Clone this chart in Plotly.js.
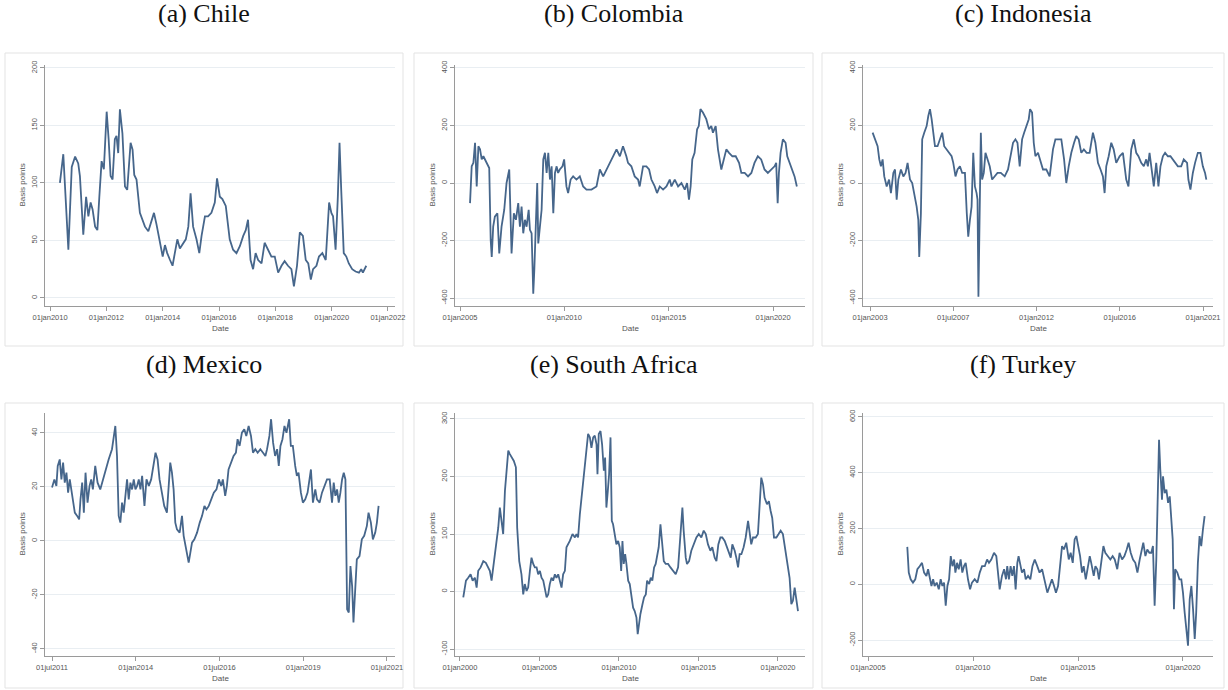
<!DOCTYPE html>
<html>
<head>
<meta charset="utf-8">
<script src="https://cdn.plot.ly/plotly-3.0.1.min.js"></script>
<style>html,body{margin:0;padding:0;background:#fff;}#chart{width:1228px;height:690px;}</style>
</head>
<body>
<div id="chart"></div>
<script>
// ---------- data: [decimal year, basis points] ----------
const chile = [[2010.35,100],[2010.47,125],[2010.65,42],[2010.77,114],[2010.89,123],[2011.00,117],[2011.06,106],[2011.18,55],[2011.28,88],[2011.36,71],[2011.44,83],[2011.51,77],[2011.60,62],[2011.68,59],[2011.75,88],[2011.83,119],[2011.91,112],[2012.01,162],[2012.08,138],[2012.15,106],[2012.22,103],[2012.30,138],[2012.36,141],[2012.42,126],[2012.48,164],[2012.57,143],[2012.66,97],[2012.74,94],[2012.86,135],[2012.93,129],[2012.99,107],[2013.07,103],[2013.19,74],[2013.29,67],[2013.37,62],[2013.49,58],[2013.61,68],[2013.69,74],[2013.78,64],[2013.90,48],[2014.00,36],[2014.08,46],[2014.16,39],[2014.26,33],[2014.35,28],[2014.43,39],[2014.52,51],[2014.61,43],[2014.73,48],[2014.82,51],[2014.91,62],[2014.99,91],[2015.08,62],[2015.20,51],[2015.30,39],[2015.38,54],[2015.50,71],[2015.61,71],[2015.73,74],[2015.85,83],[2015.93,104],[2016.03,88],[2016.12,86],[2016.24,80],[2016.38,51],[2016.50,42],[2016.62,39],[2016.74,45],[2016.86,54],[2016.95,59],[2017.03,68],[2017.12,33],[2017.21,25],[2017.30,39],[2017.39,33],[2017.51,30],[2017.62,48],[2017.74,42],[2017.86,36],[2017.98,36],[2018.10,22],[2018.22,28],[2018.33,32],[2018.45,28],[2018.57,25],[2018.66,10],[2018.77,28],[2018.87,57],[2018.98,54],[2019.08,33],[2019.17,30],[2019.26,16],[2019.34,25],[2019.46,28],[2019.55,36],[2019.67,39],[2019.79,33],[2019.91,83],[2019.99,74],[2020.05,71],[2020.14,42],[2020.22,88],[2020.28,135],[2020.34,94],[2020.43,39],[2020.52,36],[2020.61,30],[2020.73,25],[2020.85,23],[2020.97,22],[2021.05,25],[2021.11,22],[2021.23,28]];

const colombia = [[2005.48,-70],[2005.56,58],[2005.64,70],[2005.72,140],[2005.80,-12],[2005.88,128],[2005.96,117],[2006.04,82],[2006.12,93],[2006.28,70],[2006.40,52],[2006.47,-198],[2006.52,-257],[2006.59,-152],[2006.67,-117],[2006.79,-105],[2006.88,-245],[2006.99,-152],[2007.12,-93],[2007.23,0],[2007.36,47],[2007.47,-245],[2007.58,-105],[2007.68,-128],[2007.79,-70],[2007.87,-152],[2007.95,-82],[2008.03,-175],[2008.11,-128],[2008.19,-152],[2008.29,-93],[2008.35,-163],[2008.43,-175],[2008.48,-303],[2008.51,-385],[2008.56,-303],[2008.64,-82],[2008.70,0],[2008.75,-210],[2008.83,-140],[2008.91,-93],[2008.99,82],[2009.07,105],[2009.15,35],[2009.23,105],[2009.31,12],[2009.39,58],[2009.47,-105],[2009.55,35],[2009.63,58],[2009.70,35],[2009.78,47],[2009.91,58],[2009.99,82],[2010.10,-12],[2010.18,-35],[2010.30,12],[2010.42,23],[2010.58,12],[2010.74,23],[2010.90,-12],[2011.06,-23],[2011.30,-23],[2011.54,-12],[2011.70,47],[2011.86,23],[2012.02,47],[2012.18,70],[2012.34,93],[2012.50,117],[2012.66,93],[2012.81,128],[2012.97,93],[2013.05,70],[2013.21,58],[2013.37,23],[2013.53,12],[2013.61,-12],[2013.77,58],[2013.93,58],[2014.06,47],[2014.17,12],[2014.33,-12],[2014.44,-35],[2014.57,-12],[2014.73,-23],[2014.89,-12],[2015.05,12],[2015.13,-12],[2015.29,12],[2015.45,-12],[2015.61,0],[2015.77,-23],[2015.88,0],[2015.97,-58],[2016.05,-12],[2016.13,82],[2016.24,105],[2016.36,187],[2016.44,198],[2016.52,257],[2016.64,245],[2016.80,222],[2016.93,187],[2017.04,198],[2017.12,175],[2017.25,198],[2017.36,117],[2017.52,47],[2017.63,82],[2017.76,117],[2017.89,105],[2018.05,93],[2018.21,93],[2018.37,70],[2018.48,35],[2018.64,35],[2018.80,23],[2018.96,35],[2019.11,70],[2019.27,93],[2019.43,82],[2019.59,47],[2019.75,35],[2019.91,47],[2020.07,58],[2020.15,70],[2020.22,-70],[2020.28,35],[2020.36,105],[2020.47,152],[2020.60,140],[2020.68,93],[2020.79,70],[2020.92,47],[2021.03,23],[2021.14,-12]];

const indonesia = [[2003.14,175],[2003.27,152],[2003.41,128],[2003.50,82],[2003.59,58],[2003.68,82],[2003.77,23],[2003.90,-12],[2004.03,12],[2004.13,-35],[2004.26,35],[2004.35,47],[2004.44,-58],[2004.53,12],[2004.67,47],[2004.80,23],[2004.92,35],[2005.03,70],[2005.16,12],[2005.28,0],[2005.39,-35],[2005.52,-82],[2005.61,-128],[2005.66,-257],[2005.75,-105],[2005.82,152],[2005.93,175],[2006.06,198],[2006.15,233],[2006.24,257],[2006.33,222],[2006.42,163],[2006.51,128],[2006.65,128],[2006.78,152],[2006.90,175],[2007.01,128],[2007.14,117],[2007.28,105],[2007.41,93],[2007.50,70],[2007.62,23],[2007.73,47],[2007.86,58],[2007.98,35],[2008.13,35],[2008.23,-105],[2008.31,-187],[2008.40,-128],[2008.49,-82],[2008.58,105],[2008.67,-12],[2008.76,-35],[2008.81,-58],[2008.86,-396],[2008.92,-23],[2008.99,175],[2009.06,12],[2009.15,35],[2009.24,105],[2009.35,82],[2009.47,58],[2009.60,12],[2009.74,23],[2009.89,35],[2010.07,35],[2010.28,23],[2010.46,47],[2010.61,93],[2010.73,140],[2010.86,152],[2010.97,140],[2011.09,58],[2011.22,152],[2011.33,175],[2011.45,198],[2011.58,222],[2011.65,257],[2011.76,245],[2011.85,140],[2011.94,93],[2012.08,105],[2012.23,70],[2012.35,47],[2012.53,47],[2012.71,23],[2012.89,117],[2013.02,152],[2013.16,152],[2013.34,152],[2013.49,82],[2013.61,0],[2013.74,58],[2013.88,105],[2014.03,140],[2014.15,163],[2014.28,152],[2014.42,105],[2014.56,117],[2014.71,105],[2014.87,105],[2015.05,175],[2015.18,140],[2015.32,70],[2015.46,47],[2015.59,23],[2015.68,-35],[2015.77,58],[2015.90,93],[2016.04,140],[2016.17,117],[2016.31,70],[2016.49,93],[2016.67,105],[2016.85,12],[2016.97,-12],[2017.12,117],[2017.26,152],[2017.39,105],[2017.51,93],[2017.66,70],[2017.80,58],[2017.93,82],[2018.02,58],[2018.11,105],[2018.23,35],[2018.34,-12],[2018.47,70],[2018.59,-12],[2018.70,58],[2018.83,93],[2018.95,105],[2019.10,93],[2019.24,93],[2019.37,82],[2019.49,70],[2019.64,58],[2019.82,58],[2019.96,82],[2020.14,70],[2020.21,12],[2020.32,-23],[2020.45,35],[2020.57,70],[2020.72,105],[2020.86,105],[2020.99,58],[2021.11,35],[2021.18,12]];

const mexico = [[2011.50,19.8],[2011.57,22.8],[2011.63,20.4],[2011.67,27.8],[2011.73,30.2],[2011.78,22.8],[2011.83,29.0],[2011.88,21.6],[2011.93,25.3],[2011.98,17.9],[2012.03,22.8],[2012.08,19.1],[2012.13,15.4],[2012.18,10.5],[2012.25,9.3],[2012.31,8.0],[2012.35,15.4],[2012.40,21.6],[2012.45,10.5],[2012.50,25.3],[2012.56,14.2],[2012.62,20.4],[2012.67,22.8],[2012.72,19.1],[2012.79,27.8],[2012.86,21.6],[2012.94,19.1],[2013.02,22.8],[2013.09,25.3],[2013.19,30.2],[2013.29,34.0],[2013.34,37.7],[2013.39,42.6],[2013.44,31.5],[2013.49,9.3],[2013.54,6.8],[2013.59,14.2],[2013.64,10.5],[2013.69,17.9],[2013.74,22.8],[2013.79,15.4],[2013.84,21.6],[2013.89,19.1],[2013.94,22.8],[2013.99,19.1],[2014.04,20.4],[2014.09,22.8],[2014.14,19.1],[2014.19,24.1],[2014.26,13.0],[2014.32,22.8],[2014.39,20.4],[2014.46,22.8],[2014.53,27.8],[2014.59,32.7],[2014.65,30.2],[2014.71,22.8],[2014.78,17.9],[2014.85,13.0],[2014.93,10.5],[2014.98,19.1],[2015.03,29.0],[2015.08,25.3],[2015.13,19.1],[2015.18,6.8],[2015.23,4.3],[2015.31,3.1],[2015.38,9.3],[2015.43,1.9],[2015.48,-1.9],[2015.53,-4.3],[2015.58,-8.0],[2015.63,-4.3],[2015.68,-0.6],[2015.75,0.6],[2015.83,3.1],[2015.91,6.8],[2015.98,9.3],[2016.05,13.0],[2016.11,11.7],[2016.18,13.0],[2016.25,15.4],[2016.33,17.9],[2016.41,19.1],[2016.48,22.8],[2016.55,20.4],[2016.60,22.8],[2016.67,16.7],[2016.72,20.4],[2016.77,26.5],[2016.84,29.0],[2016.92,31.5],[2016.99,32.7],[2017.04,37.7],[2017.10,35.2],[2017.17,40.1],[2017.24,41.4],[2017.30,38.9],[2017.37,42.6],[2017.44,38.9],[2017.50,32.7],[2017.57,34.0],[2017.64,32.7],[2017.72,34.0],[2017.80,32.7],[2017.87,31.5],[2017.92,34.0],[2017.99,38.9],[2018.04,45.1],[2018.10,36.4],[2018.16,31.5],[2018.22,34.0],[2018.27,27.8],[2018.32,35.2],[2018.38,37.7],[2018.44,42.6],[2018.50,40.1],[2018.54,42.6],[2018.58,45.1],[2018.63,35.2],[2018.69,35.2],[2018.76,27.8],[2018.81,24.1],[2018.86,25.3],[2018.93,17.9],[2018.99,14.2],[2019.06,15.4],[2019.13,17.9],[2019.19,22.8],[2019.23,26.5],[2019.29,14.2],[2019.36,19.1],[2019.41,15.4],[2019.49,14.2],[2019.56,17.9],[2019.63,20.4],[2019.71,22.8],[2019.79,22.8],[2019.86,14.2],[2019.91,21.6],[2019.96,16.7],[2020.01,19.1],[2020.06,14.2],[2020.11,17.9],[2020.16,22.8],[2020.21,25.3],[2020.26,22.8],[2020.31,-25.3],[2020.36,-26.5],[2020.41,-9.3],[2020.46,-16.7],[2020.50,-30.2],[2020.55,-16.7],[2020.60,-6.8],[2020.68,-5.6],[2020.75,0.6],[2020.82,1.9],[2020.90,5.6],[2020.95,10.5],[2021.02,6.8],[2021.08,0.6],[2021.15,3.1],[2021.20,6.8],[2021.25,13.0]];

const southAfrica = [[2000.21,-10],[2000.38,19],[2000.52,24],[2000.67,30],[2000.80,19],[2000.94,24],[2001.05,7],[2001.15,36],[2001.30,42],[2001.47,53],[2001.63,50],[2001.78,42],[2001.88,36],[2001.99,19],[2002.09,42],[2002.20,59],[2002.30,88],[2002.41,111],[2002.51,146],[2002.62,123],[2002.72,100],[2002.83,175],[2002.93,204],[2003.04,245],[2003.14,239],[2003.25,233],[2003.39,227],[2003.52,216],[2003.60,111],[2003.73,53],[2003.87,30],[2003.98,-5],[2004.08,13],[2004.19,1],[2004.29,7],[2004.40,36],[2004.50,59],[2004.61,48],[2004.71,42],[2004.82,42],[2004.92,30],[2005.03,36],[2005.13,24],[2005.24,19],[2005.34,7],[2005.45,-10],[2005.55,-5],[2005.65,13],[2005.76,24],[2005.86,19],[2005.97,30],[2006.07,24],[2006.18,30],[2006.28,19],[2006.39,7],[2006.49,30],[2006.60,36],[2006.70,77],[2006.81,82],[2006.91,88],[2007.08,100],[2007.23,94],[2007.33,100],[2007.43,94],[2007.54,134],[2007.64,163],[2007.75,192],[2007.85,221],[2007.96,256],[2008.06,274],[2008.17,268],[2008.27,250],[2008.38,268],[2008.48,271],[2008.59,256],[2008.65,204],[2008.73,274],[2008.84,279],[2008.94,256],[2009.05,210],[2009.13,233],[2009.21,146],[2009.30,175],[2009.38,204],[2009.47,268],[2009.55,123],[2009.63,117],[2009.74,94],[2009.84,82],[2009.95,88],[2010.05,77],[2010.14,36],[2010.22,88],[2010.30,48],[2010.39,65],[2010.47,48],[2010.58,19],[2010.68,13],[2010.79,-10],[2010.89,-28],[2010.99,-34],[2011.10,-45],[2011.18,-74],[2011.27,-51],[2011.35,-39],[2011.48,-22],[2011.58,-10],[2011.69,-5],[2011.77,19],[2011.90,13],[2012.00,24],[2012.10,19],[2012.21,42],[2012.31,48],[2012.40,59],[2012.50,77],[2012.61,117],[2012.71,88],[2012.82,53],[2012.94,48],[2013.09,48],[2013.24,42],[2013.40,36],[2013.57,30],[2013.72,42],[2013.82,77],[2013.93,123],[2013.99,146],[2014.07,106],[2014.20,59],[2014.28,48],[2014.41,53],[2014.55,71],[2014.70,82],[2014.87,94],[2015.02,100],[2015.18,94],[2015.33,106],[2015.46,100],[2015.60,82],[2015.75,71],[2015.87,77],[2016.02,59],[2016.13,53],[2016.25,82],[2016.38,94],[2016.50,94],[2016.65,88],[2016.80,77],[2016.92,65],[2017.03,59],[2017.13,82],[2017.28,71],[2017.38,59],[2017.49,42],[2017.59,65],[2017.70,65],[2017.84,77],[2017.97,94],[2018.12,123],[2018.22,106],[2018.32,82],[2018.43,94],[2018.60,94],[2018.74,100],[2018.85,163],[2018.95,198],[2019.06,186],[2019.16,163],[2019.31,152],[2019.43,157],[2019.54,140],[2019.64,128],[2019.75,94],[2019.90,94],[2020.04,100],[2020.17,106],[2020.31,100],[2020.42,82],[2020.52,65],[2020.63,42],[2020.73,24],[2020.84,-22],[2020.94,-16],[2021.05,7],[2021.15,-16],[2021.26,-34]];

const turkey = [[2006.87,134],[2006.94,42],[2007.03,18],[2007.14,6],[2007.25,18],[2007.35,54],[2007.46,65],[2007.57,77],[2007.67,42],[2007.78,30],[2007.86,54],[2007.94,18],[2008.02,-6],[2008.10,18],[2008.17,-6],[2008.27,6],[2008.37,-18],[2008.46,18],[2008.54,-6],[2008.62,6],[2008.70,-77],[2008.78,-6],[2008.86,18],[2008.94,101],[2009.02,65],[2009.10,89],[2009.16,42],[2009.24,77],[2009.32,54],[2009.41,89],[2009.49,42],[2009.57,65],[2009.65,77],[2009.76,18],[2009.86,-18],[2009.95,6],[2010.08,18],[2010.21,6],[2010.32,42],[2010.43,65],[2010.56,65],[2010.67,89],[2010.76,77],[2010.87,89],[2011.00,113],[2011.11,101],[2011.19,42],[2011.27,-18],[2011.38,30],[2011.48,54],[2011.57,18],[2011.63,65],[2011.71,18],[2011.79,65],[2011.87,30],[2011.95,65],[2012.03,-18],[2012.11,77],[2012.17,101],[2012.25,65],[2012.33,42],[2012.43,54],[2012.51,18],[2012.62,30],[2012.73,18],[2012.83,65],[2012.94,89],[2013.06,65],[2013.17,42],[2013.29,54],[2013.41,18],[2013.54,-30],[2013.65,-6],[2013.76,18],[2013.86,-6],[2013.95,-30],[2014.05,-6],[2014.14,54],[2014.24,137],[2014.33,125],[2014.44,149],[2014.56,89],[2014.65,113],[2014.75,77],[2014.84,161],[2014.92,173],[2015.00,137],[2015.10,101],[2015.19,42],[2015.27,65],[2015.37,18],[2015.46,54],[2015.56,101],[2015.63,77],[2015.75,30],[2015.83,65],[2015.92,54],[2016.00,18],[2016.11,77],[2016.21,137],[2016.30,113],[2016.43,101],[2016.54,89],[2016.65,101],[2016.75,89],[2016.87,54],[2016.98,113],[2017.10,89],[2017.21,101],[2017.32,125],[2017.41,149],[2017.51,113],[2017.62,89],[2017.73,77],[2017.83,42],[2017.94,89],[2018.02,113],[2018.11,149],[2018.21,101],[2018.30,125],[2018.40,113],[2018.49,113],[2018.57,137],[2018.65,-77],[2018.73,89],[2018.81,375],[2018.86,518],[2018.92,411],[2019.00,303],[2019.05,387],[2019.13,327],[2019.21,339],[2019.29,292],[2019.37,315],[2019.44,232],[2019.51,161],[2019.57,-89],[2019.63,54],[2019.73,42],[2019.83,18],[2019.92,18],[2020.00,-30],[2020.08,-101],[2020.16,-173],[2020.24,-220],[2020.32,-54],[2020.40,-6],[2020.48,-89],[2020.56,-196],[2020.63,-101],[2020.71,77],[2020.79,173],[2020.87,137],[2020.95,196],[2021.03,244]];

// ---------- titles and tick labels ----------
const panelTitles = ['(a) Chile','(b) Colombia','(c) Indonesia','(d) Mexico','(e) South Africa','(f) Turkey'];
const chileYTicks = [0,50,100,150,200];
const colombiaYTicks = [-400,-200,0,200,400];
const indonesiaYTicks = [-400,-200,0,200,400];
const mexicoYTicks = [-40,-20,0,20,40];
const southAfricaYTicks = [-100,0,100,200,300];
const turkeyYTicks = [-200,0,200,400,600];
const chileXTicks = [2010,2012,2014,2016,2018,2020,2022];
const chileXLabels = ['01jan2010','01jan2012','01jan2014','01jan2016','01jan2018','01jan2020','01jan2022'];
const colombiaXTicks = [2005,2010,2015,2020];
const colombiaXLabels = ['01jan2005','01jan2010','01jan2015','01jan2020'];
const indonesiaXTicks = [2003,2007.5,2012,2016.5,2021];
const indonesiaXLabels = ['01jan2003','01jul2007','01jan2012','01jul2016','01jan2021'];
const mexicoXTicks = [2011.5,2014,2016.5,2019,2021.5];
const mexicoXLabels = ['01jul2011','01jan2014','01jul2016','01jan2019','01jul2021'];
const southAfricaXTicks = [2000,2005,2010,2015,2020];
const southAfricaXLabels = ['01jan2000','01jan2005','01jan2010','01jan2015','01jan2020'];
const turkeyXTicks = [2005,2010,2015,2020];
const turkeyXLabels = ['01jan2005','01jan2010','01jan2015','01jan2020'];

// ---------- layout geometry (pixels) ----------
const W = 1228, H = 690;
const cols = [[45,395],[455,805],[863,1213]];
const rows = [[65,306],[413,656]];
const boxesX = [[5,403],[414,813],[822,1224]];
const boxesY = [[53,346],[403,688]];
const titleY = [14,364];

const panels = [
  {data: chile, yt: chileYTicks, yr: [-7, 202.6], xt: chileXTicks, xl: chileXLabels, xr: [2009.82, 2022.25]},
  {data: colombia, yt: colombiaYTicks, yr: [-427.8, 410.4], xt: colombiaXTicks, xl: colombiaXLabels, xr: [2004.76, 2021.53]},
  {data: indonesia, yt: indonesiaYTicks, yr: [-427.8, 410.4], xt: indonesiaXTicks, xl: indonesiaXLabels, xr: [2002.62, 2021.54]},
  {data: mexico, yt: mexicoYTicks, yr: [-42.6, 47.4], xt: mexicoXTicks, xl: mexicoXLabels, xr: [2011.29, 2021.74]},
  {data: southAfrica, yt: southAfricaYTicks, yr: [-112, 310.4], xt: southAfricaXTicks, xl: southAfricaXLabels, xr: [1999.69, 2021.7]},
  {data: turkey, yt: turkeyYTicks, yr: [-257, 614], xt: turkeyXTicks, xl: turkeyXLabels, xr: [2004.76, 2021.43]}
];

const traces = [];
const layout = {
  width: W, height: H,
  margin: {l:0, r:0, t:0, b:0},
  paper_bgcolor: '#ffffff',
  plot_bgcolor: 'rgba(0,0,0,0)',
  showlegend: false,
  shapes: [], annotations: []
};

const tickFont = {family: 'Liberation Sans, Arial, sans-serif', size: 7.5, color: '#555'};
const axisCol = '#9a9a9a';

panels.forEach((p, i) => {
  const r = Math.floor(i / 3), c = i % 3;
  const n = i === 0 ? '' : String(i + 1);
  const xd = [cols[c][0] / W, cols[c][1] / W];
  const yd = [1 - rows[r][1] / H, 1 - rows[r][0] / H];
  traces.push({
    type: 'scatter', mode: 'lines',
    x: p.data.map(d => d[0]), y: p.data.map(d => d[1]),
    xaxis: 'x' + n, yaxis: 'y' + n,
    line: {color: '#46668b', width: 1.8},
    hoverinfo: 'skip'
  });
  layout['xaxis' + n] = {
    domain: xd, range: p.xr, anchor: 'y' + n,
    tickmode: 'array', tickvals: p.xt, ticktext: p.xl,
    showgrid: false, zeroline: false,
    showline: true, linecolor: axisCol, linewidth: 1,
    ticks: 'outside', ticklen: 4, tickcolor: axisCol,
    tickfont: tickFont, fixedrange: true
  };
  layout['yaxis' + n] = {
    domain: yd, range: p.yr, anchor: 'x' + n,
    tickmode: 'array', tickvals: p.yt, ticktext: p.yt.map(String),
    tickangle: -90,
    showgrid: true, gridcolor: '#e9eef2', gridwidth: 1,
    zeroline: false,
    showline: true, linecolor: axisCol, linewidth: 1,
    ticks: 'outside', ticklen: 4, tickcolor: axisCol,
    tickfont: tickFont, fixedrange: true
  };
  // panel frame
  layout.shapes.push({
    type: 'rect', xref: 'paper', yref: 'paper', layer: 'below',
    x0: boxesX[c][0] / W, x1: boxesX[c][1] / W,
    y0: 1 - boxesY[r][1] / H, y1: 1 - boxesY[r][0] / H,
    line: {color: '#e3e3e3', width: 1}, fillcolor: '#ffffff'
  });
  // panel caption
  layout.annotations.push({
    xref: 'paper', yref: 'paper',
    x: (boxesX[c][0] + boxesX[c][1]) / 2 / W, y: 1 - titleY[r] / H,
    text: panelTitles[i], showarrow: false,
    xanchor: 'center', yanchor: 'middle',
    font: {family: 'Liberation Serif, Times New Roman, serif', size: 26, color: '#111'}
  });
  // y axis title
  layout.annotations.push({
    xref: 'paper', yref: 'paper',
    x: (cols[c][0] - 23) / W, y: 1 - ((rows[r][0] + rows[r][1]) / 2) / H,
    text: 'Basis points', textangle: -90, showarrow: false,
    xanchor: 'center', yanchor: 'middle',
    font: {family: 'Liberation Sans, Arial, sans-serif', size: 8, color: '#555'}
  });
  // x axis title
  layout.annotations.push({
    xref: 'paper', yref: 'paper',
    x: ((cols[c][0] + cols[c][1]) / 2) / W, y: 1 - (rows[r][1] + 22) / H,
    text: 'Date', showarrow: false,
    xanchor: 'center', yanchor: 'middle',
    font: {family: 'Liberation Sans, Arial, sans-serif', size: 8, color: '#555'}
  });
});

Plotly.newPlot('chart', traces, layout, {displayModeBar: false, staticPlot: true});
</script>
</body>
</html>
